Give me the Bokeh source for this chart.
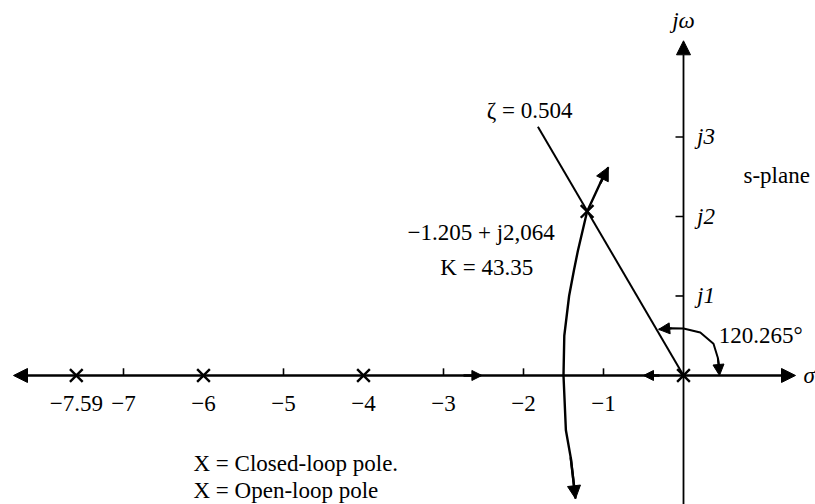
from bokeh.plotting import figure
from bokeh.models import Arrow, NormalHead, Range1d
from bokeh.core.properties import value
from bokeh.embed import file_html
from bokeh.resources import INLINE

# ---- data ----
open_loop_re = [0.0, -4.0, -6.0]
open_loop_im = [0.0, 0.0, 0.0]
closed_loop_re = [-7.59, -1.205]
closed_loop_im = [0.0, 2.064]

sigma_ticks = [-7, -5, -3, -2, -1]
sigma_label_vals = [-7.59, -7, -6, -5, -4, -3, -2, -1]
sigma_label_txt = ["\u22127.59", "\u22127", "\u22126", "\u22125", "\u22124", "\u22123", "\u22122", "\u22121"]
omega_ticks = [1, 2, 3]
omega_label_txt = ["j1", "j2", "j3"]

# complex branch of the locus (sigma, omega)
branch_re = [-1.35, -1.41, -1.47, -1.50, -1.49, -1.43, -1.37, -1.32, -1.205, -1.04, -0.94]
branch_im = [-1.55, -1.03, -0.69, 0.0, 0.5, 1.0, 1.32, 1.57, 2.064, 2.42, 2.62]

# damping-ratio line
zeta_re = [0.0, -1.82]
zeta_im = [0.0, 3.13]

# angle arc (120.265 deg)
arc_re = [-0.31, -0.15, 0.0, 0.21, 0.375, 0.43, 0.45]
arc_im = [0.58, 0.595, 0.59, 0.54, 0.40, 0.22, 0.08]

FONT = value("Liberation Serif")

p = figure(width=815, height=504, x_range=Range1d(-8.5375, 1.65), y_range=Range1d(-1.623, 4.717),
           output_backend="svg", toolbar_location=None, min_border=0,
           x_axis_location=None, y_axis_location=None)
p.grid.visible = False
p.outline_line_color = None

def head(sz):
    return NormalHead(size=sz, fill_color="black", line_color="black")

# axes with arrows
p.add_layout(Arrow(start=head(14), end=head(14),
                   x_start=-8.375, y_start=0, x_end=1.4, y_end=0, line_width=2.4))
p.add_layout(Arrow(end=head(14), x_start=0, y_start=-1.7, x_end=0, y_end=4.21, line_width=1.8))

# ticks
p.segment(x0=sigma_ticks, y0=[0] * len(sigma_ticks), x1=sigma_ticks, y1=[0.09] * len(sigma_ticks),
          line_color="black", line_width=1.6)
p.segment(x0=[0] * 3, y0=omega_ticks, x1=[-0.1] * 3, y1=omega_ticks, line_color="black", line_width=1.6)

# real-axis direction arrows
p.add_layout(Arrow(end=head(10), x_start=-2.75, y_start=0, x_end=-2.52, y_end=0, line_width=2.4))
p.add_layout(Arrow(end=head(10), x_start=-0.3, y_start=0, x_end=-0.5, y_end=0, line_width=2.4))

# locus branch
p.line(branch_re, branch_im, line_color="black", line_width=2.4)
p.add_layout(Arrow(end=head(13), x_start=branch_re[-2], y_start=branch_im[-2],
                   x_end=branch_re[-1], y_end=branch_im[-1], line_width=2.4))
p.add_layout(Arrow(end=head(13), x_start=branch_re[1], y_start=branch_im[1],
                   x_end=branch_re[0], y_end=branch_im[0], line_width=2.4))

# zeta line
p.line(zeta_re, zeta_im, line_color="black", line_width=2)

# angle arc
p.line(arc_re, arc_im, line_color="black", line_width=2)
p.add_layout(Arrow(end=head(11), x_start=arc_re[1], y_start=arc_im[1],
                   x_end=arc_re[0], y_end=arc_im[0], line_width=2))
p.add_layout(Arrow(end=head(11), x_start=arc_re[-2], y_start=arc_im[-2],
                   x_end=arc_re[-1], y_end=0.0, line_width=2))

# poles
p.scatter(open_loop_re, open_loop_im, marker="x", size=18, line_color="black", line_width=2.4)
p.scatter(closed_loop_re, closed_loop_im, marker="x", size=18, line_color="black", line_width=2.4)

def txt(x, y, s, size="23px", align="left", style="normal"):
    p.text(x=[x], y=[y], text=[s], text_font=FONT, text_font_size=size, text_align=align,
           text_baseline="middle", text_color="black", text_font_style=style)

# sigma tick labels
for v, s in zip(sigma_label_vals, sigma_label_txt):
    txt(v, -0.35, s, align="center")

# omega tick labels
for v, s in zip(omega_ticks, omega_label_txt):
    txt(0.17, v, s, style="italic")

txt(0.0, 4.47, "j\u03c9", align="center", style="italic")
txt(1.5, 0.0, "\u03c3", style="italic")
txt(0.75, 2.52, "s-plane")
txt(-2.46, 3.33, "\u03b6 = 0.504")
txt(-3.45, 1.80, "\u22121.205 + j2,064")
txt(-3.04, 1.36, "K = 43.35")
txt(0.44, 0.50, "120.265\u00b0")
txt(-6.125, -1.107, "X = Closed-loop pole.")
txt(-6.125, -1.45, "X = Open-loop pole")

open("out.html", "w").write(file_html(p, INLINE))
